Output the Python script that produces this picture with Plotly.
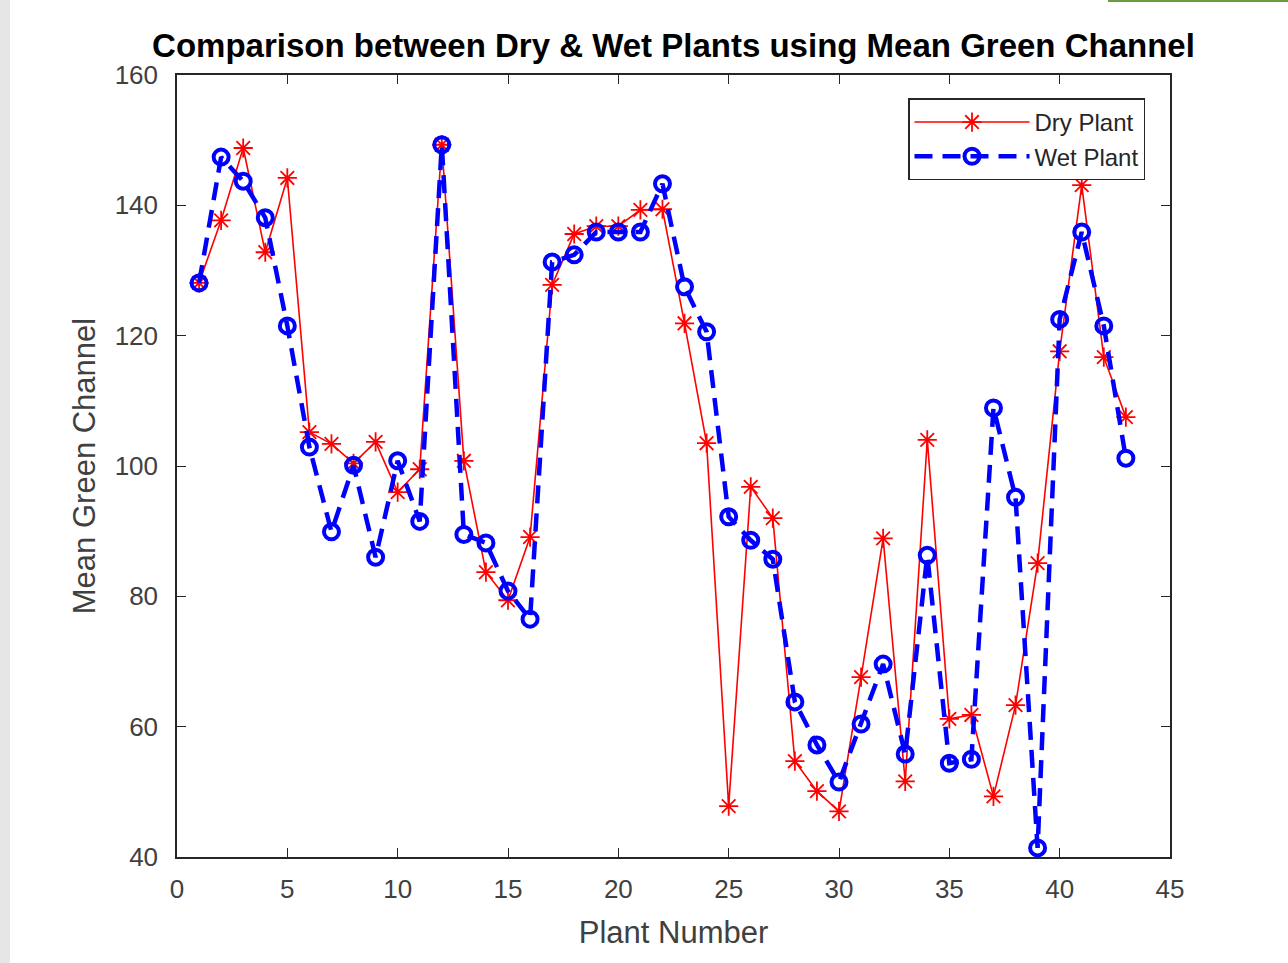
import plotly.graph_objects as go

plant_number = list(range(1, 44))

dry_plant = [128.1, 137.7, 148.8, 132.8, 144.2, 105.2, 103.4, 100.4, 103.7, 96.0,
             99.5, 149.3, 100.8, 83.7, 79.4, 89.1, 127.8, 135.6, 136.8, 136.8,
             139.3, 139.4, 121.9, 103.5, 47.8, 96.8, 92.0, 54.7, 50.1, 47.0,
             67.6, 88.9, 51.6, 104.0, 61.2, 61.8, 49.3, 63.3, 85.1, 117.6,
             143.1, 116.7, 107.5]

wet_plant = [128.1, 147.4, 143.7, 138.1, 121.5, 102.9, 89.9, 100.1, 86.0, 100.8,
             91.5, 149.3, 89.5, 88.2, 80.8, 76.5, 131.3, 132.4, 135.9, 135.9,
             135.9, 143.3, 127.5, 120.6, 92.2, 88.6, 85.7, 63.8, 57.2, 51.5,
             60.4, 69.6, 55.8, 86.3, 54.4, 55.0, 108.9, 95.2, 41.4, 122.5,
             135.9, 121.5, 101.2]

x_ticks = [0, 5, 10, 15, 20, 25, 30, 35, 40, 45]
y_ticks = [40, 60, 80, 100, 120, 140, 160]

FONT = "Liberation Sans, Arial, Helvetica, sans-serif"

fig = go.Figure()
fig.add_trace(go.Scatter(
    x=plant_number, y=dry_plant, name="Dry Plant", mode="lines+markers",
    line=dict(color="#ff0000", width=1.6),
    marker=dict(symbol="asterisk-open", size=16, color="#ff0000",
                line=dict(color="#ff0000", width=1.8)),
))
fig.add_trace(go.Scatter(
    x=plant_number, y=wet_plant, name="Wet Plant", mode="lines+markers",
    line=dict(color="#0000ff", width=4.5, dash="18px,10px"),
    marker=dict(symbol="circle-open", size=15, color="#0000ff",
                line=dict(color="#0000ff", width=4)),
))

axis_common = dict(
    showgrid=False, zeroline=False, showline=True, linecolor="#262626",
    linewidth=1.5, mirror="allticks", ticks="inside", ticklen=9,
    tickcolor="#262626", tickwidth=1.2,
    tickfont=dict(family=FONT, size=26, color="#404040"),
)

fig.update_layout(
    width=1288, height=963,
    paper_bgcolor="white", plot_bgcolor="white",
    margin=dict(l=177, r=118, t=75, b=106),
    title=dict(text="<b>Comparison between Dry &amp; Wet Plants using Mean Green Channel</b>",
               x=0.5, xref="paper", xanchor="center", y=0.953, yanchor="middle",
               font=dict(family=FONT, size=33, color="black")),
    xaxis=dict(range=[0, 45], tickvals=x_ticks, ticktext=[str(v) for v in x_ticks],
               ticklabelstandoff=8,
               title=dict(text="Plant Number", standoff=18,
                          font=dict(family=FONT, size=31, color="#404040")),
               **axis_common),
    yaxis=dict(range=[40, 160], tickvals=y_ticks, ticktext=[str(v) for v in y_ticks],
               ticklabelstandoff=12,
               title=dict(text="Mean Green Channel", standoff=10,
                          font=dict(family=FONT, size=31, color="#404040")),
               **axis_common),
    legend=dict(x=(1145 - 177) / 993, xanchor="right", y=0.97, yanchor="top",
                bgcolor="white", bordercolor="#262626", borderwidth=1.5,
                font=dict(family=FONT, size=24, color="#262626"),
                tracegroupgap=0, itemwidth=115),
    showlegend=True,
)

# page framing: light gray strip on the left, green bar top-right
fig.add_shape(type="rect", xref="paper", yref="paper", x0=-177/993, x1=-167/993,
              y0=-106/782, y1=1 + 75/782, fillcolor="#e6e6e6", line_width=0, layer="below")
fig.add_shape(type="rect", xref="paper", yref="paper", x0=(1108-177)/993, x1=(1288-177)/993,
              y0=1 + 73/782, y1=1 + 75/782, fillcolor="#6e9a45", line_width=0)

fig.write_html("out.html")
